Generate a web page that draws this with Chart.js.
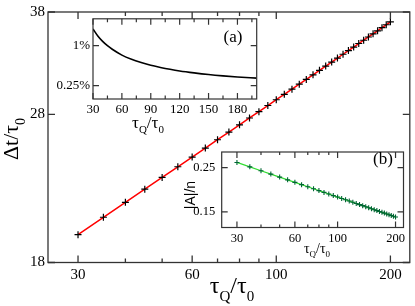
<!DOCTYPE html>
<html>
<head>
<meta charset="utf-8">
<script src="https://cdn.jsdelivr.net/npm/chart.js@4"></script>
<style>
  body { margin: 0; background: #fff; }
  #wrap { position: relative; width: 415px; height: 306px; }
  canvas { position: absolute; }
</style>
</head>
<body>
<div id="wrap">
  <canvas id="main" width="415" height="306" style="left:0;top:0"></canvas>
  <canvas id="insA" width="225" height="132" style="left:40px;top:8px"></canvas>
  <canvas id="insB" width="232" height="120" style="left:180px;top:138px"></canvas>
</div>
<script>
// quench times tau_Q/tau_0 (main plot and inset b)
const tau = [30,35,40,45,50,55,60,65,70,75,80,85,90,95,100,105,110,115,120,125,
             130,135,140,145,150,155,160,165,170,175,180,185,190,195,200];
// delay time Δt/τ0
const deltaT = [19.56,20.60,21.54,22.40,23.20,23.95,24.65,25.32,25.96,26.56,27.14,27.70,
                28.23,28.75,29.25,29.73,30.19,30.64,31.08,31.51,31.93,32.34,32.73,33.12,
                33.50,33.87,34.23,34.59,34.93,35.27,35.61,35.93,36.26,36.58,36.90];
// inset (b): |A|/n
const ampRatio = [0.2658,0.2525,0.2415,0.2322,0.2242,0.2172,0.2110,0.2054,0.2004,0.1959,
                  0.1917,0.1878,0.1843,0.1810,0.1779,0.1751,0.1724,0.1699,0.1675,0.1652,
                  0.1630,0.1610,0.1591,0.1572,0.1554,0.1537,0.1521,0.1506,0.1491,0.1477,
                  0.1463,0.1449,0.1437,0.1424,0.1412];
// inset (a): relative deviation in %
const tauA = [30,35,40,45,50,60,70,80,90,100,110,120,135,150,165,180,200];
const devA = [1.309,1.179,1.078,0.997,0.930,0.821,0.743,0.682,0.630,0.590,0.555,0.525,
              0.489,0.458,0.433,0.412,0.390];

// tick labels
const mainXTicks = [30, 60, 100, 200];
const mainXMinor = [40, 50, 70, 80, 90];
const mainYTicks = [18, 28, 38];
const aXTicks = [30, 60, 90, 120, 150, 180];
const aXMinor = [45, 75, 105, 135, 165, 195];
const aYTicks = [0.25, 1];
const bXTicks = [30, 60, 100, 200];
const bXMinor = [40, 50, 70, 80, 90];
const bYTicks = [0.15, 0.25];

function drawText(ctx, t) {
  ctx.save();
  ctx.translate(t.x, t.y);
  if (t.rot) ctx.rotate(t.rot);
  ctx.fillStyle = '#000';
  ctx.textBaseline = 'alphabetic';
  const fam = t.family || 'Liberation Serif';
  const f = s => s + 'px "' + fam + '"';
  let w = 0;
  t.parts.forEach(p => { ctx.font = f(p[1] ? t.sub : t.size); w += ctx.measureText(p[0]).width; });
  let cx = -w / 2;
  t.parts.forEach(p => {
    ctx.font = f(p[1] ? t.sub : t.size);
    ctx.fillText(p[0], cx, p[1] ? t.size * 0.32 : 0);
    cx += ctx.measureText(p[0]).width;
  });
  ctx.restore();
}

// grace-like frame with inward ticks on all four sides
const frame = {
  id: 'frame',
  afterDraw(chart, args, o) {
    const ctx = chart.ctx, a = chart.chartArea;
    const x = chart.scales.x, y = chart.scales.y;
    ctx.save();
    ctx.strokeStyle = '#333';
    ctx.lineWidth = o.lw;
    ctx.strokeRect(a.left, a.top, a.right - a.left, a.bottom - a.top);
    ctx.beginPath();
    const tick = (vals, len, isX) => vals.forEach(v => {
      if (isX) {
        const p = x.getPixelForValue(v);
        ctx.moveTo(p, a.bottom); ctx.lineTo(p, a.bottom - len);
        ctx.moveTo(p, a.top); ctx.lineTo(p, a.top + len);
      } else {
        const p = y.getPixelForValue(v);
        ctx.moveTo(a.left, p); ctx.lineTo(a.left + len, p);
        ctx.moveTo(a.right, p); ctx.lineTo(a.right - len, p);
      }
    });
    tick(o.xMajor, o.major, true);
    tick(o.xMinor, o.minor, true);
    tick(o.yMajor, o.major, false);
    ctx.stroke();
    o.texts.forEach(t => drawText(ctx, t));
    ctx.restore();
  }
};

function axis(type, min, max, ticks, size, pad, fit) {
  return {
    type: type, min: min, max: max, bounds: 'data',
    afterBuildTicks: s => { s.ticks = ticks.map(v => ({ value: v })); },
    afterFit: fit,
    grid: { display: false, drawTicks: false },
    border: { display: false },
    ticks: {
      callback: v => type === 'linear' && max < 2 ? v + '%' : String(v),
      font: { family: 'Liberation Serif', size: size },
      color: '#000', padding: pad, maxRotation: 0, autoSkip: false
    }
  };
}

const tauTitle = (x, y, size, sub) => ({
  x: x, y: y, size: size, sub: sub,
  parts: [['τ', 0], ['Q', 1], ['/τ', 0], ['0', 1]]
});

// main plot
new Chart(document.getElementById('main'), {
  type: 'scatter',
  data: {
    datasets: [{
      data: tau.map((t, i) => ({ x: t, y: deltaT[i] })),
      showLine: true,
      borderColor: '#ff0000',
      borderWidth: 1.5,
      pointStyle: 'cross',
      pointRadius: 3.5,
      pointBorderWidth: 1.2,
      pointBorderColor: '#000'
    }]
  },
  options: {
    responsive: false,
    animation: false,
    layout: { padding: { top: 6, right: 2 } },
    scales: {
      x: axis('logarithmic', 25, 225, mainXTicks, 15, 4, s => { s.height = 43.5; }),
      y: axis('logarithmic', 18, 38, mainYTicks, 15, 3, s => { s.width = 48; })
    },
    plugins: {
      legend: { display: false },
      tooltip: { enabled: false },
      frame: {
        lw: 1.3, major: 7, minor: 4,
        xMajor: mainXTicks, xMinor: mainXMinor, yMajor: mainYTicks,
        texts: [
          tauTitle(232, 293, 24, 15),
          { x: 18, y: 139, rot: -Math.PI / 2, size: 22, sub: 14,
            parts: [['Δt/τ', 0], ['0', 1]] }
        ]
      }
    }
  },
  plugins: [frame]
});

// inset (a)
new Chart(document.getElementById('insA'), {
  type: 'scatter',
  data: {
    datasets: [{
      data: tauA.map((t, i) => ({ x: t, y: devA[i] })),
      showLine: true,
      borderColor: '#000',
      borderWidth: 1.6,
      cubicInterpolationMode: 'monotone',
      pointRadius: 0
    }]
  },
  options: {
    responsive: false,
    animation: false,
    layout: { padding: { top: 7, right: 8.3 } },
    scales: {
      x: axis('linear', 30, 200, aXTicks, 13, 3, s => { s.height = 41; }),
      y: axis('linear', 0, 1.5, aYTicks, 13, 3, s => { s.width = 53; })
    },
    plugins: {
      legend: { display: false },
      tooltip: { enabled: false },
      frame: {
        lw: 1.2, major: 6, minor: 3.5,
        xMajor: aXTicks, xMinor: aXMinor, yMajor: aYTicks,
        texts: [
          tauTitle(108, 120, 17, 11),
          { x: 193, y: 34, size: 17, sub: 17, parts: [['(a)', 0]] }
        ]
      }
    }
  },
  plugins: [frame]
});

// inset (b)
new Chart(document.getElementById('insB'), {
  type: 'scatter',
  data: {
    datasets: [{
      data: tau.map((t, i) => ({ x: t, y: ampRatio[i] })),
      showLine: true,
      borderColor: '#33dd33',
      borderWidth: 1.2,
      pointStyle: 'cross',
      pointRadius: 2.5,
      pointBorderWidth: 1.1,
      pointBorderColor: '#063'
    }]
  },
  options: {
    responsive: false,
    animation: false,
    layout: { padding: { top: 5.5, right: 8.5 } },
    scales: {
      x: axis('logarithmic', 25, 220, bXTicks, 12.5, 4, s => { s.height = 30.5; }),
      y: axis('logarithmic', 0.125, 0.3, bYTicks, 12.5, 6.5, s => { s.width = 41.7; })
    },
    plugins: {
      legend: { display: false },
      tooltip: { enabled: false },
      frame: {
        lw: 1.2, major: 6, minor: 3,
        xMajor: bXTicks, xMinor: bXMinor, yMajor: bYTicks,
        texts: [
          tauTitle(137, 115, 14, 9),
          { x: 203, y: 26, size: 17, sub: 17, parts: [['(b)', 0]] },
          { x: 15, y: 57, rot: -Math.PI / 2, size: 14, sub: 14,
            family: 'Liberation Sans', parts: [['|A|/n', 0]] }
        ]
      }
    }
  },
  plugins: [frame]
});
</script>
</body>
</html>
